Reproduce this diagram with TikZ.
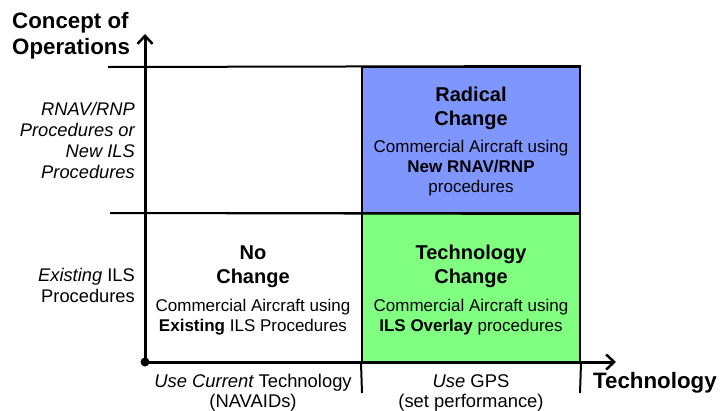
\documentclass[tikz,border=0pt]{standalone}
\usepackage{fontspec}
\setmainfont{Liberation Sans}
\usetikzlibrary{arrows.meta}
\definecolor{radblue}{RGB}{128,150,255}
\definecolor{techgreen}{RGB}{128,255,128}
\begin{document}
\begin{tikzpicture}[x=1pt,y=-1pt,
  axisline/.style={line width=3pt,-{Straight Barb[length=8pt,width=15pt,line width=2.5pt]}},
  gridline/.style={line width=2pt},
  quad/.style={draw,line width=2pt,minimum width=218pt,minimum height=149pt,inner sep=0pt},
  ttl/.style={font=\fontsize{20}{24}\selectfont\bfseries,align=center,inner sep=0pt,anchor=base},
  bodytext/.style={font=\fontsize{17}{20}\selectfont,align=center,inner sep=0pt,anchor=base},
  axtitle/.style={font=\fontsize{22.3}{25}\selectfont\bfseries,inner sep=0pt,anchor=base west},
  sidelabel/.style={font=\fontsize{18.3}{21}\selectfont,align=right,inner sep=0pt,anchor=base east},
  botlabel/.style={font=\fontsize{18.4}{20}\selectfont,align=center,inner sep=0pt,anchor=base}
]
\useasboundingbox (0,0) rectangle (726,410);
% quadrants
\node[quad,fill=radblue,minimum height=146pt] (radical) at (471,140) {};
\node[quad,fill=techgreen] (techq) at (471,287.5) {};
\node[quad,fill=white,minimum width=217pt] (noq) at (253.5,287.5) {};
% grid lines
\coordinate (topL) at (108,67);
\coordinate (midL) at (110,213);
\draw[gridline] (topL) -- (radical.north east);
\draw[gridline] (midL) -- (radical.south east);
% ticks
\coordinate (t1) at (362,393);
\coordinate (t2) at (580,393);
\draw[gridline] (radical.south west |- techq.south) -- (t1);
\draw[gridline] (techq.south east) -- (t2);
% axes
\coordinate (o) at (145,362);
\coordinate (ytip) at (145,34);
\coordinate (xtip) at (616,362);
\draw[axisline] (o) -- (ytip);
\draw[axisline] (o) -- (xtip);
\fill (o) circle (4.5pt);
% axis titles
\node[axtitle] (cop1) at (12,28) {Concept of};
\node[axtitle] (cop2) at (12,54) {Operations};
\node[axtitle] (techt) at (593,388) {Technology};
% side labels (anchor = baseline of last line)
\node[sidelabel] (rnav) at (135,178) {\itshape RNAV/RNP\\ \itshape Procedures or\\ \itshape New ILS\\ \itshape Procedures};
\node[sidelabel] (exist) at (135,302) {\itshape Existing\upshape{} ILS\\ Procedures};
% bottom labels
\node[botlabel] (curr) at (253,407) {\itshape Use Current\upshape{} Technology\\ (NAVAIDs)};
\node[botlabel] (gps) at (471,407) {\itshape Use\upshape{} GPS\\ (set performance)};
% quadrant texts
\node[ttl] (radt) at (471,125) {Radical\\ Change};
\node[bodytext] (radb) at (471,192) {Commercial Aircraft using\\ \textbf{New RNAV/RNP}\\ procedures};
\node[ttl] (not) at (253,283) {No\\ Change};
\node[bodytext] (nob) at (253,331) {Commercial Aircraft using\\ \textbf{Existing} ILS Procedures};
\node[ttl] (tct) at (471,283) {Technology\\ Change};
\node[bodytext] (tcb) at (471,331) {Commercial Aircraft using\\ \textbf{ILS Overlay} procedures};
\end{tikzpicture}
\end{document}
